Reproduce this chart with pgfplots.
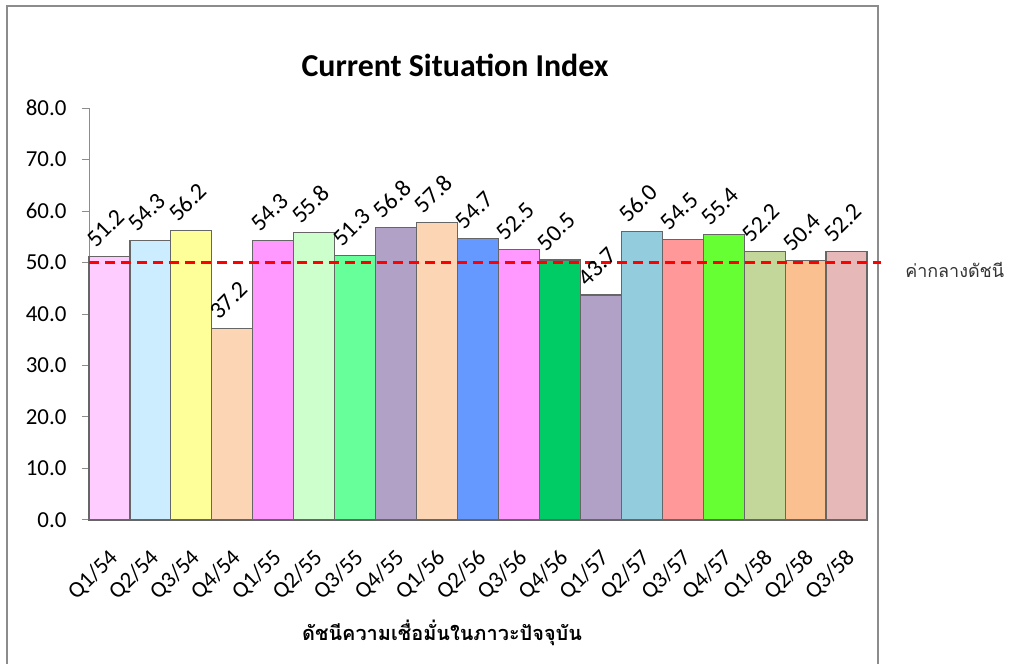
\documentclass[border=0pt]{standalone}
\usepackage{pgfplots}
\pgfplotsset{compat=1.18}
\usepackage{fontspec}
\setmainfont{Carlito}
\newfontfamily\thaifont[Script=Thai]{Loma}

\definecolor{c1}{HTML}{FFCCFF}
\definecolor{c2}{HTML}{CCECFF}
\definecolor{c3}{HTML}{FFFF99}
\definecolor{c4}{HTML}{FCD5B5}
\definecolor{c5}{HTML}{FF99FF}
\definecolor{c6}{HTML}{CCFFCC}
\definecolor{c7}{HTML}{66FF99}
\definecolor{c8}{HTML}{B2A1C7}
\definecolor{c9}{HTML}{FCD5B5}
\definecolor{c10}{HTML}{6699FF}
\definecolor{c11}{HTML}{FF99FF}
\definecolor{c12}{HTML}{00CC66}
\definecolor{c13}{HTML}{B2A1C7}
\definecolor{c14}{HTML}{93CDDD}
\definecolor{c15}{HTML}{FF9999}
\definecolor{c16}{HTML}{66FF33}
\definecolor{c17}{HTML}{C4D79B}
\definecolor{c18}{HTML}{FAC090}
\definecolor{c19}{HTML}{E6B9B8}
\definecolor{framegray}{HTML}{8C8C8C}

\pgfplotsset{
  mybar/.style={ybar, bar width=1, bar shift=0pt, fill=#1, draw=black!60, line width=1.2bp,
    nodes near coords,
    every node near coord/.append style={font=\fontsize{24}{28}\selectfont, text=black,
      xshift=-13bp, yshift=4bp, rotate=45, anchor=south west, inner sep=2bp},
    nodes near coords={\pgfmathprintnumber[fixed, fixed zerofill, precision=1]{\pgfplotspointmeta}}},
}

\begin{document}
\begin{tikzpicture}
\path[use as bounding box] (0,0) rectangle (1011bp,664bp);
\draw[framegray, line width=2bp] (7bp,-2bp) -- (7bp,658bp) -- (878bp,658bp) -- (878bp,-2bp);
\node[font=\bfseries\fontsize{32}{38}\selectfont] at (455bp,599bp) {Current Situation Index};
\node[font=\thaifont\bfseries\fontsize{20}{24}\selectfont] at (442bp,31bp) {ดัชนีความเชื่อมั่นในภาวะปัจจุบัน};
\begin{axis}[
  at={(89bp,144bp)}, anchor=south west,
  scale only axis, width=778bp, height=412bp,
  xmin=-0.5, xmax=18.5, ymin=0, ymax=80,
  axis x line*=bottom, axis y line*=left,
  axis line style={framegray, line width=1bp},
  ytick={0,10,...,80},
  yticklabel={\pgfmathprintnumber[fixed, fixed zerofill, precision=1]{\tick}},
  /pgf/number format/assume math mode=true,
  xtick={0,...,18},
  xticklabels={Q1/54,Q2/54,Q3/54,Q4/54,Q1/55,Q2/55,Q3/55,Q4/55,Q1/56,Q2/56,Q3/56,Q4/56,Q1/57,Q2/57,Q3/57,Q4/57,Q1/58,Q2/58,Q3/58},
  xtick style={draw=none},
  ytick style={framegray, line width=1bp},
  major tick length=7bp, tick align=outside,
  tick label style={font=\fontsize{23}{27}\selectfont, text=black},
  yticklabel style={xshift=-12bp},
  xticklabel style={xshift=7bp, yshift=-25bp, rotate=45, anchor=east},
  clip=false,
]
\addplot[mybar=c1] coordinates {(0,51.2)};
\addplot[mybar=c2] coordinates {(1,54.3)};
\addplot[mybar=c3] coordinates {(2,56.2)};
\addplot[mybar=c4] coordinates {(3,37.2)};
\addplot[mybar=c5] coordinates {(4,54.3)};
\addplot[mybar=c6] coordinates {(5,55.8)};
\addplot[mybar=c7] coordinates {(6,51.3)};
\addplot[mybar=c8] coordinates {(7,56.8)};
\addplot[mybar=c9] coordinates {(8,57.8)};
\addplot[mybar=c10] coordinates {(9,54.7)};
\addplot[mybar=c11] coordinates {(10,52.5)};
\addplot[mybar=c12] coordinates {(11,50.5)};
\addplot[mybar=c13] coordinates {(12,43.7)};
\addplot[mybar=c14] coordinates {(13,56.0)};
\addplot[mybar=c15] coordinates {(14,54.5)};
\addplot[mybar=c16] coordinates {(15,55.4)};
\addplot[mybar=c17] coordinates {(16,52.2)};
\addplot[mybar=c18] coordinates {(17,50.4)};
\addplot[mybar=c19] coordinates {(18,52.2)};
\addplot[red, line width=2.4bp, dash pattern=on 10bp off 6bp] coordinates {(-0.5,50) (18.84,50)};
\node[font=\thaifont\fontsize{18}{21}\selectfont, text=black!80, anchor=base west, inner sep=0pt, yshift=-15bp] at (axis cs:19.43,50) {ค่ากลางดัชนี};
\end{axis}
\end{tikzpicture}
\end{document}
